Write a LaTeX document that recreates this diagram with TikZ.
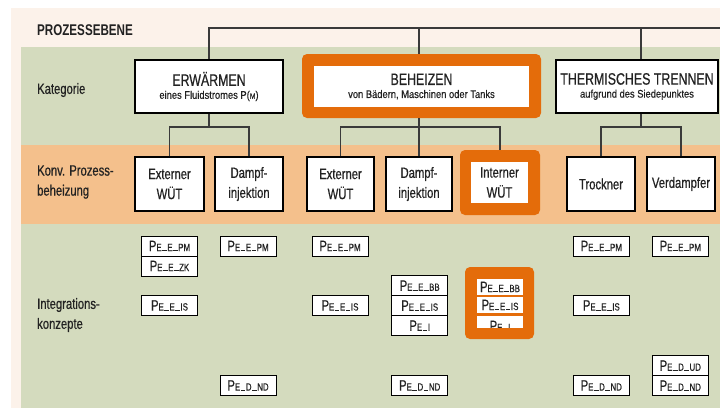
\documentclass[tikz,border=0pt]{standalone}
\usepackage{fontspec}
\setmainfont{Liberation Sans}[FakeStretch=0.75, FakeBold=0.6]
\newfontfamily\subf{Liberation Sans}[FakeStretch=0.85, FakeBold=0.4]
\newfontfamily\titlef{Liberation Sans Bold}[FakeStretch=0.75]
\definecolor{cream}{HTML}{FCF2EA}
\definecolor{sage}{HTML}{D4DBBE}
\definecolor{band}{HTML}{F4C08C}
\definecolor{accent}{HTML}{E46C0A}
\definecolor{ink}{HTML}{222222}
\definecolor{wire}{HTML}{3A3A3A}
\newcommand\bigf{\fontsize{16.5}{18}\selectfont}
\newcommand\midf{\fontsize{15}{20}\selectfont}
\newcommand\smf{\subf\fontsize{11}{12}\selectfont}
\newcommand\usc{\kern0.6pt\rule[-0.2pt]{4.5pt}{0.8pt}\kern0.6pt}
\newcommand\pelab[1]{P{\fontsize{10.5}{10.5}\selectfont #1}}
\tikzset{
  catbox/.style={draw=black, fill=white, line width=1.1pt, inner sep=0pt, align=center, text=ink, minimum height=53pt},
  konvbox/.style={draw=black, fill=white, line width=1.1pt, inner sep=0pt, align=center, text=ink, minimum height=54pt, font=\midf},
  pebox/.style={draw=black, fill=white, line width=1pt, inner sep=0pt, text=ink, minimum width=56pt, minimum height=20pt, font=\midf},
  pein/.style={fill=white, inner sep=0pt, text=ink, minimum width=46pt, font=\midf},
  hl/.style={fill=accent, rounded corners=5pt},
  wiring/.style={draw=wire, line width=1.4pt},
  rowlabel/.style={anchor=west, align=left, text=ink, font=\midf, inner sep=0pt}
}
\begin{document}
\begin{tikzpicture}[x=1pt,y=-1pt]
\useasboundingbox (0,0) rectangle (720,408);
% backgrounds
\fill[cream] (11,8) rectangle (720,408);
\fill[sage] (21,47) rectangle (720,145);
\fill[band] (21,145) rectangle (720,224);
\fill[sage] (21,224) rectangle (720,408);

% title and row labels
\node[rowlabel, font=\titlef\fontsize{15.5}{16}\selectfont] (title) at (37,30) {PROZESSEBENE};
\node[rowlabel] (lkat) at (37,90) {Kategorie};
\node[rowlabel] (lkonv) at (37,182) {Konv. Prozess-\\beheizung};
\node[rowlabel] (lint) at (37,315) {Integrations-\\konzepte};

% category boxes
\node[catbox, minimum width=148pt] (erw) at (209,86.5) {{\bigf ERWÄRMEN}\\[1pt]{\smf eines Fluidstromes P({\fontsize{8}{8}\selectfont M})}};
\node[hl, minimum width=239pt, minimum height=64pt, inner sep=0pt] (behO) at (421.5,86) {};
\node[fill=white, inner sep=0pt, align=center, text=ink, minimum width=215pt, minimum height=41pt] (beh) at (421.5,86.5) {{\bigf BEHEIZEN}\\[1pt]{\smf von Bädern, Maschinen oder Tanks}};
\node[catbox, minimum width=162pt] (thr) at (637,86.5) {{\bigf THERMISCHES TRENNEN}\\[1pt]{\smf aufgrund des Siedepunktes}};

% top wiring
\coordinate (tR) at (720,28);
\coordinate (j1) at (209,127);
\draw[wiring] (erw.north) |- (tR);
\draw[wiring] (behO.north -| 419,0) -- (419,28);
\draw[wiring] (thr.north -| 641,0) -- (641,28);

% konv boxes
\node[konvbox, minimum width=69pt] (k1) at (169.5,184) {Externer\\WÜT};
\node[konvbox, minimum width=68pt] (k2) at (249,184) {Dampf-\\injektion};
\node[konvbox, minimum width=67pt] (k3) at (340.5,184) {Externer\\WÜT};
\node[konvbox, minimum width=66pt] (k4) at (419,184) {Dampf-\\injektion};
\node[hl, minimum width=80pt, minimum height=65pt, inner sep=0pt] (k5O) at (500,182.5) {};
\node[fill=white, inner sep=0pt, align=center, text=ink, font=\midf, minimum width=57pt, minimum height=41pt] (k5) at (499.5,182.5) {Interner\\WÜT};
\node[konvbox, minimum width=68pt] (k6) at (601,184) {Trockner};
\node[konvbox, minimum width=68pt] (k7) at (681,184) {Verdampfer};

% konv wiring
\draw[wiring] (erw.south) -- (erw.south |- j1);
\draw[wiring] (k1.north) |- (k2.north |- j1) -- (k2.north);
\draw[wiring] (behO.south -| k4.north) -- (k4.north);
\draw[wiring] (k3.north) |- (k5O.north |- j1) -- (k5O.north);
\draw[wiring] (thr.south -| 641,0) -- (641,127);
\draw[wiring] (k6.north) |- (k7.north |- j1) -- (k7.north);

% integration concepts
\node[pebox] (a1) at (169.5,246) {\pelab{E\usc E\usc PM}};
\node[pebox] (a2) at (169.5,266) {\pelab{E\usc E\usc ZK}};
\node[pebox] (a3) at (169.5,305.5) {\pelab{E\usc E\usc IS}};

\node[pebox] (b1) at (248,246) {\pelab{E\usc E\usc PM}};
\node[pebox] (b2) at (248,385.5) {\pelab{E\usc D\usc ND}};

\node[pebox] (c1) at (340,246) {\pelab{E\usc E\usc PM}};
\node[pebox] (c2) at (340,305.5) {\pelab{E\usc E\usc IS}};

\node[pebox] (d1) at (419.7,285.7) {\pelab{E\usc E\usc BB}};
\node[pebox] (d2) at (419.7,305.7) {\pelab{E\usc E\usc IS}};
\node[pebox] (d3) at (419.7,325.7) {\pelab{E\usc I}};
\node[pebox] (d4) at (419.7,385.5) {\pelab{E\usc D\usc ND}};

\node[hl, minimum width=69pt, minimum height=72pt, inner sep=0pt] (eO) at (499.5,303) {};
\node[pein, minimum height=16pt] (e1) at (500,287) {\pelab{E\usc E\usc BB}};
\node[pein, minimum height=16pt] (e2) at (500,305) {\pelab{E\usc E\usc IS}};
\begin{scope}
\clip (477,316) rectangle (523,327);
\node[pein, minimum height=20pt] (e3) at (500,326) {\pelab{E\usc I}};
\end{scope}

\node[pebox] (f1) at (601.3,246) {\pelab{E\usc E\usc PM}};
\node[pebox] (f2) at (601.3,305.5) {\pelab{E\usc E\usc IS}};
\node[pebox] (f3) at (601.3,385.5) {\pelab{E\usc D\usc ND}};

\node[pebox] (g1) at (680.3,246) {\pelab{E\usc E\usc PM}};
\node[pebox] (g2) at (680.3,365.7) {\pelab{E\usc D\usc UD}};
\node[pebox] (g3) at (680.3,385.7) {\pelab{E\usc D\usc ND}};
\end{tikzpicture}
\end{document}
